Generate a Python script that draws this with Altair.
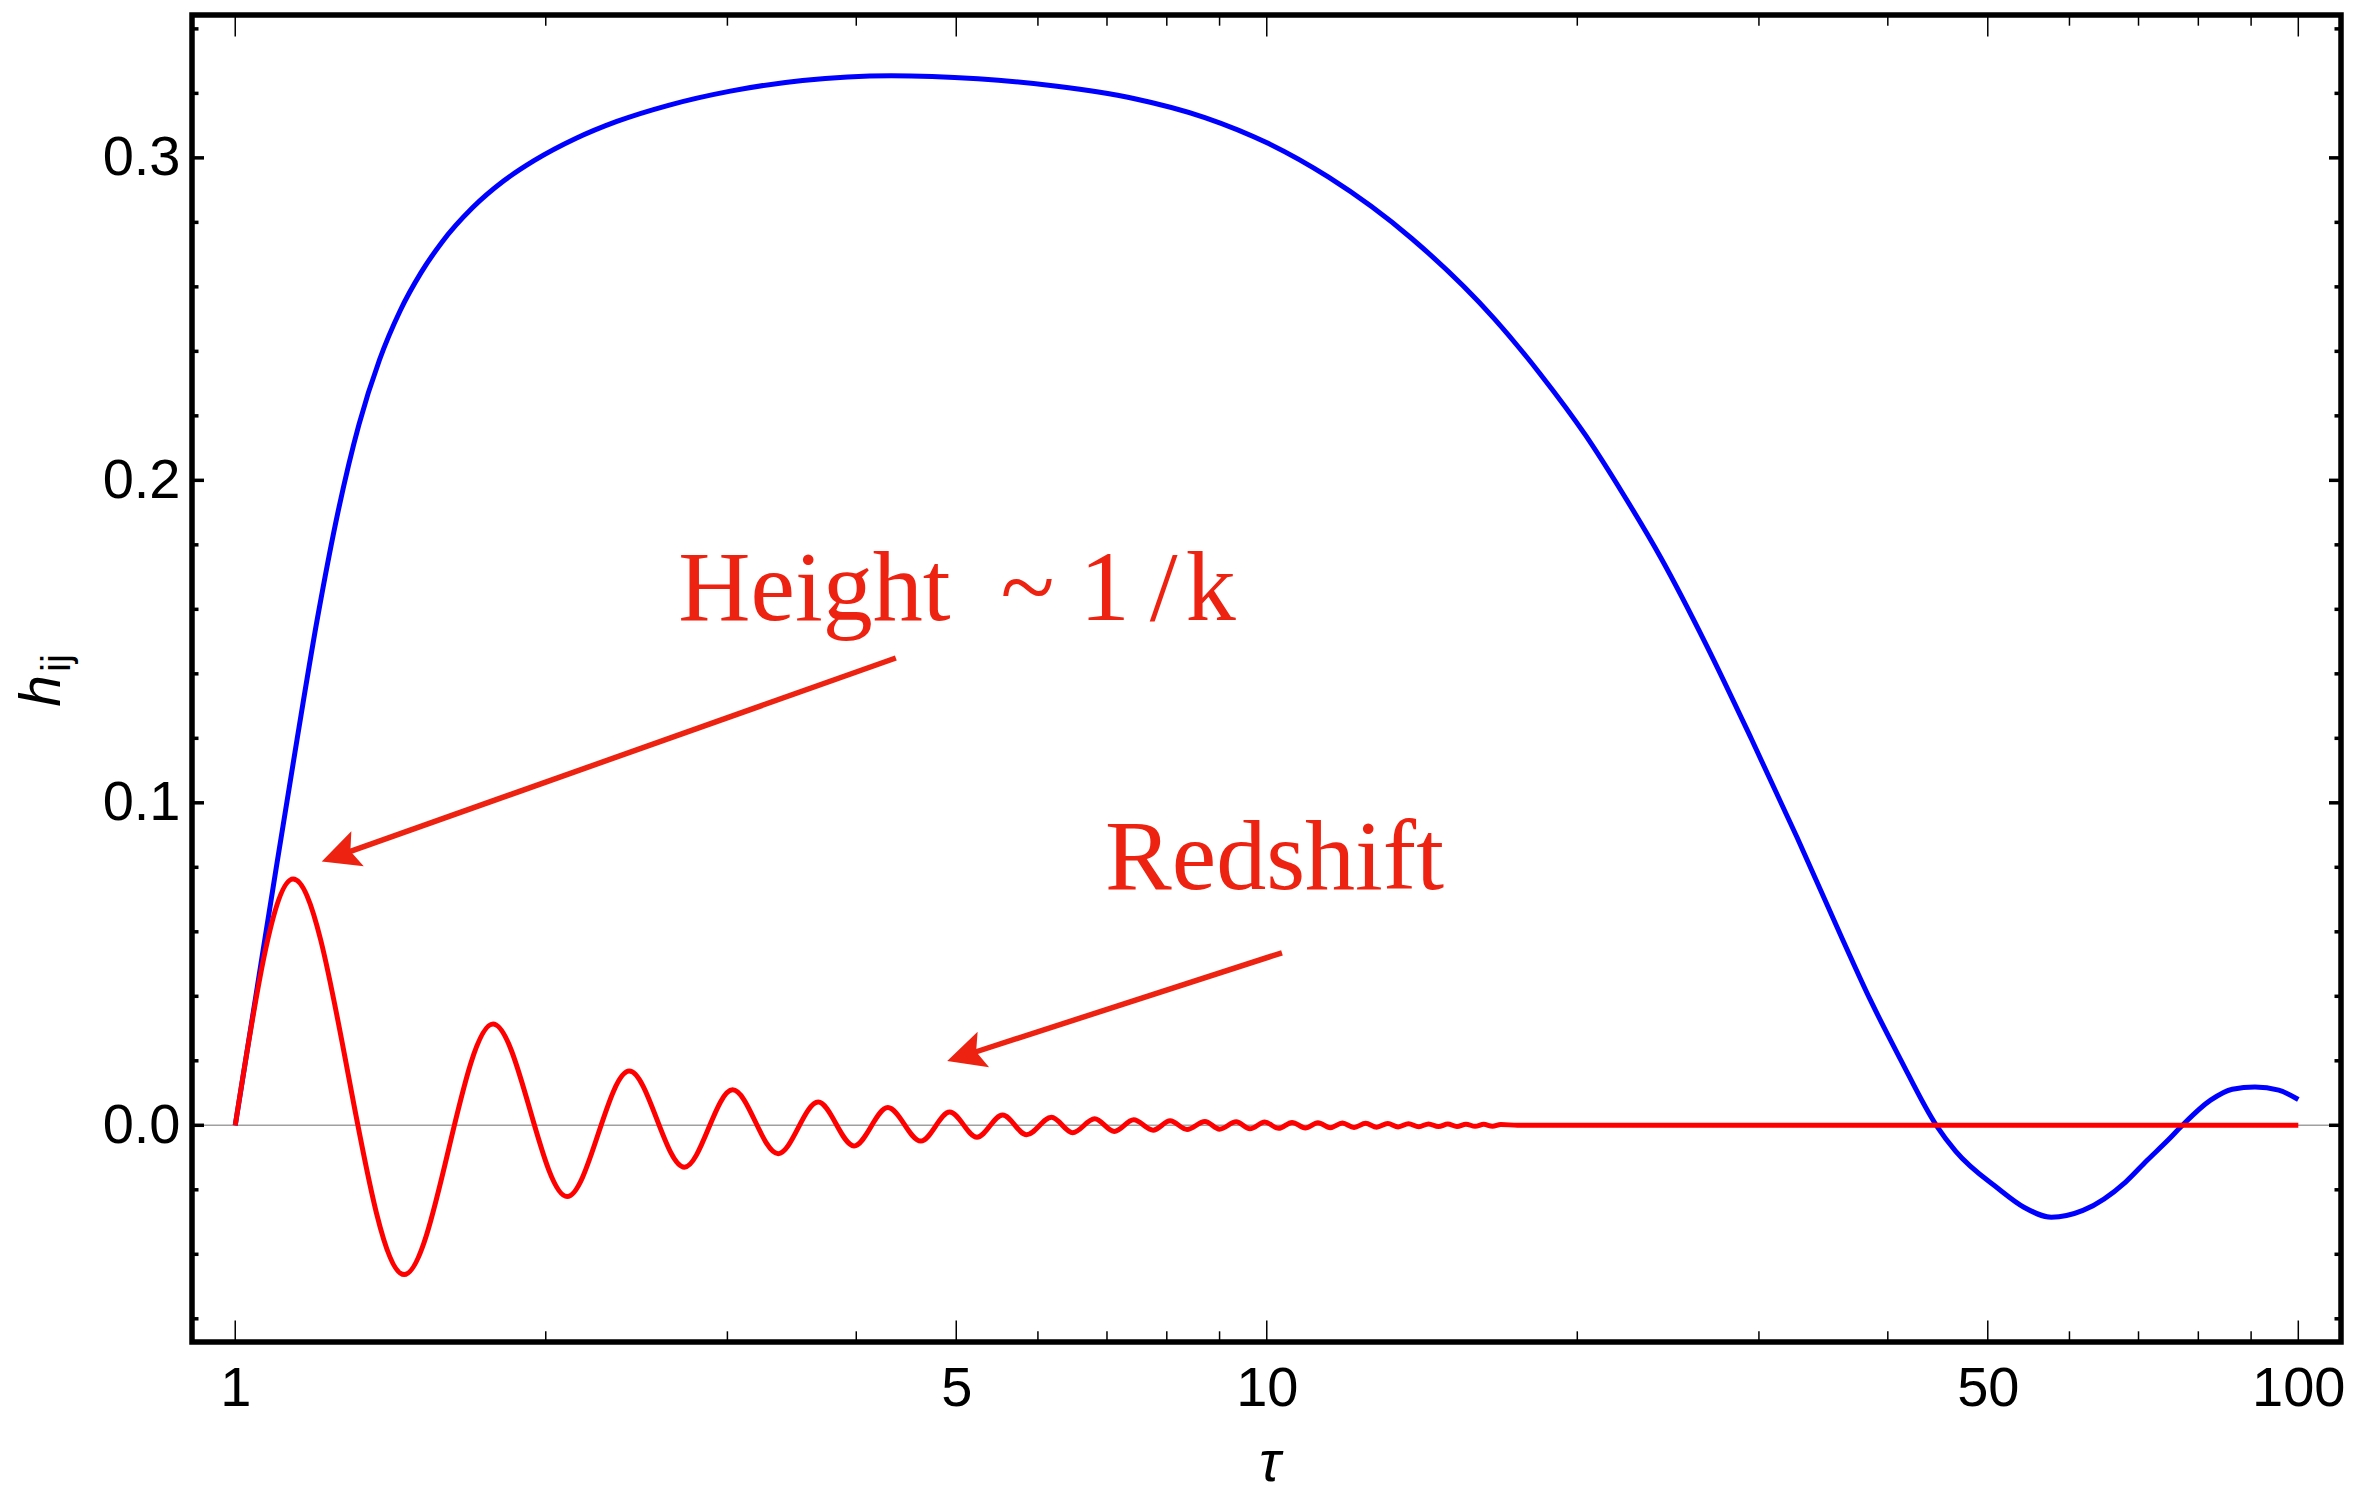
import math

import altair as alt
import pandas as pd

# ---- plot geometry -------------------------------------------------------
W, H = 2149, 1327                      # plot area (inside the frame)
TAU_DOMAIN = [0.908, 110.0]
H_DOMAIN = [-0.0672, 0.3443]

# ---- long-wavelength mode (blue) -----------------------------------------
blue_tau = [1.0, 1.047, 1.096, 1.148, 1.202, 1.259, 1.318, 1.380, 1.445,
            1.514, 1.585, 1.698, 1.820, 1.950, 2.138, 2.344, 2.630, 3.020,
            3.548, 4.325, 5.248, 6.26, 7.41, 8.71, 10.03, 11.48, 13.82, 16.63,
            18.41, 20.37, 22.13, 24.10, 26.67, 29.51, 32.66, 36.14, 38.48,
            41.11, 44.57, 46.53, 51.17, 54.20, 57.62, 61.84, 68.01, 71.29,
            74.82, 77.20, 82.22, 86.30, 90.78, 95.72, 100.0]
blue_h = [0.0, 0.040, 0.080, 0.1197, 0.1576, 0.1908, 0.2173, 0.2374, 0.2526,
          0.2644, 0.2737, 0.2845, 0.2928, 0.2992, 0.3060, 0.3113, 0.3163,
          0.3207, 0.3240, 0.3255, 0.3245, 0.3222, 0.3185, 0.3125, 0.3045,
          0.2940, 0.2750, 0.2500, 0.2330, 0.2140, 0.1960, 0.1760, 0.1490,
          0.1197, 0.0893, 0.0578, 0.0388, 0.0207, 0.0, -0.0080, -0.0196,
          -0.0254, -0.0285, -0.0264, -0.0176, -0.0110, -0.0045, 0.0, 0.0078,
          0.0112, 0.0119, 0.0109, 0.0080]

# ---- short-wavelength mode (red): successive crests and troughs ----------
red_tau = [1.0, 1.138, 1.458, 1.778, 2.098, 2.41, 2.725, 3.035, 3.36, 3.674,
           3.98, 4.292, 4.62, 4.928, 5.237, 5.545, 5.85, 6.185, 6.484, 6.81,
           7.116, 7.43, 7.76, 8.06, 8.37, 8.71, 9.0, 9.34, 9.63, 9.955, 10.27,
           10.58, 10.9, 11.21, 11.52, 11.84, 12.15, 12.47, 12.78, 13.1, 13.41,
           13.72, 14.04, 14.35, 14.67, 14.98, 15.29, 15.6, 15.92, 16.23, 16.55,
           16.86, 17.5, 30.0, 100.0]
red_h = [0.0, 0.0764, -0.0463, 0.0314, -0.0221, 0.0168, -0.0130, 0.0110,
         -0.0088, 0.0072, -0.0064, 0.0055, -0.0049, 0.0041, -0.0037, 0.0032,
         -0.0029, 0.0025, -0.0023, 0.0020, -0.0019, 0.0017, -0.0015, 0.0014,
         -0.0013, 0.0012, -0.0012, 0.0011, -0.0011, 0.0010, -0.00095, 0.0009,
         -0.00085, 0.0008, -0.00075, 0.0007, -0.00065, 0.0006, -0.00058,
         0.00055, -0.0005, 0.00048, -0.00045, 0.00043, -0.0004, 0.00038,
         -0.00036, 0.00034, -0.00032, 0.0003, -0.00028, 0.00026, 0.0, 0.0,
         0.0]

# ---- ticks ---------------------------------------------------------------
x_major = [1, 5, 10, 50, 100]
x_minor = [2, 3, 4, 6, 7, 8, 9, 20, 30, 40, 60, 70, 80, 90]
y_major = [0.0, 0.1, 0.2, 0.3]
y_minor = [-0.06, -0.04, -0.02, 0.02, 0.04, 0.06, 0.08, 0.12, 0.14, 0.16,
           0.18, 0.22, 0.24, 0.26, 0.28, 0.32, 0.34]

# ---- annotations ---------------------------------------------------------
note_text = ["Height\u2002~ 1\u2009/\u200ak", "Redshift"]
note_tau = [2.689, 6.97]
note_h = [0.1568, 0.0732]
arrow_tail_tau = [4.369, 10.345]
arrow_tail_h = [0.1449, 0.0535]
arrow_tip_tau = [1.213, 4.90]
arrow_tip_h = [0.0818, 0.0199]

NOTE_RED = "#ee2211"
HEAD_LEN = 38.0
HEAD_PATH = "M0,0 L0.98,2 L0,1.6 L-0.98,2 Z"

x_scale = alt.Scale(type="log", domain=TAU_DOMAIN, nice=False)
y_scale = alt.Scale(domain=H_DOMAIN, nice=False, zero=False)

x_axis = alt.Axis(values=x_major, format="~g", title=None, ticks=False,
                  domain=False, grid=False, labelPadding=19,
                  labelFlush=False, labelOverlap=False)
y_axis = alt.Axis(values=y_major, format=".1f", title=None, ticks=False,
                  domain=False, grid=False, labelPadding=12,
                  labelOverlap=False)


def X(field):
    return alt.X(field, scale=x_scale, axis=x_axis, title=None)


def Y(field):
    return alt.Y(field, scale=y_scale, axis=y_axis, title=None)


# pixel conversion, used to orient the arrow heads and stop the shafts at them
px_per_dec = W / (math.log10(TAU_DOMAIN[1]) - math.log10(TAU_DOMAIN[0]))
px_per_h = H / (H_DOMAIN[1] - H_DOMAIN[0])


def to_px(t, h):
    return ((math.log10(t) - math.log10(TAU_DOMAIN[0])) * px_per_dec,
            (H_DOMAIN[1] - h) * px_per_h)


def from_px(px, py):
    return (10 ** (math.log10(TAU_DOMAIN[0]) + px / px_per_dec),
            H_DOMAIN[1] - py / px_per_h)


arrow_rows = []
for tt, th, pt, ph in zip(arrow_tail_tau, arrow_tail_h, arrow_tip_tau, arrow_tip_h):
    x0, y0 = to_px(tt, th)
    x1, y1 = to_px(pt, ph)
    length = math.hypot(x1 - x0, y1 - y0)
    vx, vy = (x1 - x0) / length, (y1 - y0) / length
    angle = math.degrees(math.atan2(vx, -vy)) % 360
    sx, sy = from_px(x1 - vx * 0.78 * HEAD_LEN, y1 - vy * 0.78 * HEAD_LEN)
    arrow_rows.append(dict(tau=tt, h=th, tau2=sx, h2=sy, tip_tau=pt, tip_h=ph,
                           angle=angle))
arrows = pd.DataFrame(arrow_rows)

blue = pd.DataFrame({"tau": blue_tau, "h": blue_h})
red = pd.DataFrame({"tau": red_tau, "h": red_h})
notes = pd.DataFrame({"tau": note_tau, "h": note_h, "text": note_text})

AXIS_FONT = "Liberation Sans"

blue_line = alt.Chart(blue).mark_line(
    color="#0000ff", strokeWidth=5, interpolate="monotone"
).encode(x=X("tau:Q"), y=Y("h:Q"))

red_line = alt.Chart(red).mark_line(
    color="#ff0000", strokeWidth=5, interpolate="monotone"
).encode(x=X("tau:Q"), y=Y("h:Q"))

zero_line = alt.Chart(pd.DataFrame({"h": [0.0]})).mark_rule(
    color="#a0a0a0", strokeWidth=1.5
).encode(y=Y("h:Q"))

shafts = alt.Chart(arrows).mark_rule(color=NOTE_RED, strokeWidth=5.5).encode(
    x=X("tau:Q"), y=Y("h:Q"), x2="tau2:Q", y2="h2:Q",
)

heads = alt.Chart(arrows).mark_point(
    shape=HEAD_PATH, filled=True, size=HEAD_LEN ** 2, color=NOTE_RED,
    opacity=1, strokeWidth=0
).encode(
    x=X("tip_tau:Q"), y=Y("tip_h:Q"),
    angle=alt.Angle("angle:Q", scale=None),
)

labels = alt.Chart(notes).mark_text(
    align="left", baseline="alphabetic", font="Liberation Serif",
    fontSize=100, color=NOTE_RED
).encode(x=X("tau:Q"), y=Y("h:Q"), text="text:N")


def x_ticks(values, length):
    df = pd.DataFrame({"tau": values})
    base = alt.Chart(df).mark_rule(color="black", strokeWidth=1.5)
    bottom = base.encode(x=X("tau:Q"), y=alt.value(H), y2=alt.value(H - length))
    top = base.encode(x=X("tau:Q"), y=alt.value(0), y2=alt.value(length))
    return [bottom, top]


def y_ticks(values, length):
    df = pd.DataFrame({"h": values})
    base = alt.Chart(df).mark_rule(color="black", strokeWidth=3.5)
    left = base.encode(y=Y("h:Q"), x=alt.value(0), x2=alt.value(length))
    right = base.encode(y=Y("h:Q"), x=alt.value(W), x2=alt.value(W - length))
    return [left, right]


tick_layers = (x_ticks(x_major, 21.5) + x_ticks(x_minor, 10.7)
               + y_ticks(y_major, 12) + y_ticks(y_minor, 6.5))

one = pd.DataFrame({"k": [0]})
y_title_h = alt.Chart(one).mark_text(
    text="h", font=AXIS_FONT, fontSize=57, fontStyle="italic", angle=270,
    align="center", baseline="alphabetic", color="black"
).encode(x=alt.value(-132), y=alt.value(676))
y_title_ij = alt.Chart(one).mark_text(
    text="ij", font=AXIS_FONT, fontSize=40, angle=270,
    align="center", baseline="alphabetic", color="black"
).encode(x=alt.value(-122), y=alt.value(648))
x_title = alt.Chart(one).mark_text(
    text="τ", font=AXIS_FONT, fontSize=57, fontStyle="italic",
    align="center", baseline="alphabetic", color="black"
).encode(x=alt.value(1078), y=alt.value(1466))

chart = alt.layer(
    zero_line, blue_line, red_line, shafts, heads, labels,
    *tick_layers, y_title_h, y_title_ij, x_title
).properties(
    width=W, height=H,
    padding={"left": 192, "top": 15, "right": 26, "bottom": 152},
    autosize=alt.AutoSizeParams(type="none"),
    background="white",
).configure_view(
    stroke="black", strokeWidth=5.5
).configure_axis(
    labelFont=AXIS_FONT, labelFontSize=56, labelColor="black"
)

chart.save("out.html", embed_options={"renderer": "svg", "actions": False})
